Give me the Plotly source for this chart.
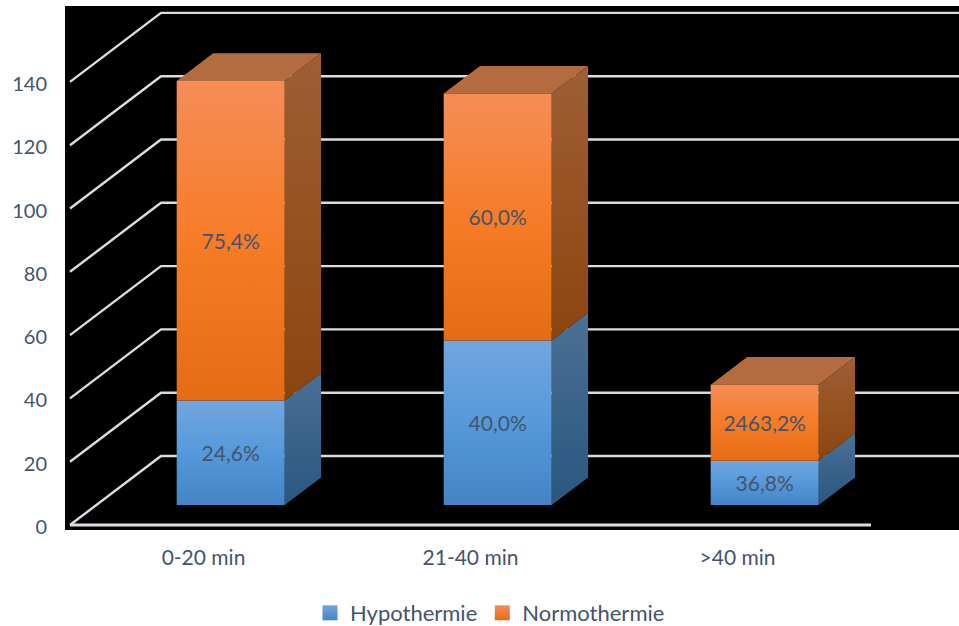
import plotly.graph_objects as go

# Chart data
categories = ["0-20 min", "21-40 min", ">40 min"]
hypothermie = [33, 52, 14]
normothermie = [101, 78, 24]
hypo_labels = ["24,6%", "40,0%", "36,8%"]
normo_labels = ["75,4%", "60,0%", "2463,2%"]
y_ticks = [0, 20, 40, 60, 80, 100, 120, 140]

# Oblique projection of the depth axis, in axis units
X_UNIT = 267
Y_UNIT = 3.165
DEPTH_X = 91 / X_UNIT
DEPTH_Y = 69 / Y_UNIT
BAR_WIDTH = 108 / X_UNIT
BAR_NEAR = 0.29
BAR_FAR = 0.69
BAR_SHIFT = 0.8 / X_UNIT
LABEL_DROP = 3 / Y_UNIT

TEXT = "#44546A"
GRID = "#D9DCE3"
FONT = "Lato"
FONT_SIZE = 21

BLUE_FRONT = [[0, "#4484C6"], [0.5, "#5599DB"], [1, "#72A6DF"]]
BLUE_SIDE = [[0, "#2A5680"], [1, "#4B7094"]]
ORANGE_FRONT = [[0, "#E56C17"], [0.5, "#F67C27"], [1, "#F58D57"]]
ORANGE_SIDE = [[0, "#8C450F"], [1, "#9E5F35"]]
ORANGE_TOP = "#B56B40"

fig = go.Figure()


def project(x, value, depth):
    return x + depth * DEPTH_X, value + depth * DEPTH_Y


def face(corners, scale=None, color=None):
    xs = [c[0] for c in corners] + [corners[0][0]]
    ys = [c[1] for c in corners] + [corners[0][1]]
    kwargs = {}
    if scale is not None:
        kwargs["fillgradient"] = dict(type="vertical", colorscale=scale,
                                      start=min(ys), stop=max(ys))
    else:
        kwargs["fillcolor"] = color
    fig.add_trace(go.Scatter(x=xs, y=ys, mode="lines", fill="toself",
                             line=dict(width=0), showlegend=False,
                             hoverinfo="skip", **kwargs))


# Gridlines run along the side wall and then across the back wall
x_left = -0.5
x_right = 2.5
for tick in y_ticks:
    fx, fy = project(x_left, tick, 0)
    bx, by = project(x_left, tick, 1)
    ex, ey = project(x_right, tick, 1)
    fig.add_trace(go.Scatter(x=[fx, bx, ex], y=[fy, by, ey], mode="lines",
                             line=dict(color=GRID, width=2.4),
                             showlegend=False, hoverinfo="skip"))
fig.add_trace(go.Scatter(x=[x_left, x_right], y=[0, 0], mode="lines",
                         line=dict(color=GRID, width=2.8),
                         showlegend=False, hoverinfo="skip"))


def block(center, low, high, front, side, top=None):
    x0 = center - BAR_WIDTH / 2
    x1 = center + BAR_WIDTH / 2
    if top is not None:
        face([project(x0, high, BAR_NEAR), project(x1, high, BAR_NEAR),
              project(x1, high, BAR_FAR), project(x0, high, BAR_FAR)], color=top)
    face([project(x1, low, BAR_NEAR), project(x1, low, BAR_FAR),
          project(x1, high, BAR_FAR), project(x1, high, BAR_NEAR)], scale=side)
    face([project(x0, low, BAR_NEAR), project(x1, low, BAR_NEAR),
          project(x1, high, BAR_NEAR), project(x0, high, BAR_NEAR)], scale=front)


# Stacked blocks, with their labels centred on the front faces
label_x, label_y, label_text = [], [], []
for i in range(len(categories)):
    h = hypothermie[i]
    n = normothermie[i]
    block(i + BAR_SHIFT, 0, h, BLUE_FRONT, BLUE_SIDE)
    block(i + BAR_SHIFT, h, h + n, ORANGE_FRONT, ORANGE_SIDE, top=ORANGE_TOP)
    for mid, txt in ((h / 2, hypo_labels[i]), (h + n / 2, normo_labels[i])):
        px, py = project(i + BAR_SHIFT, mid, BAR_NEAR)
        label_x.append(px)
        label_y.append(py - LABEL_DROP)
        label_text.append(txt)

fig.add_trace(go.Scatter(x=label_x, y=label_y, text=label_text, mode="text",
                         textposition="middle center",
                         textfont=dict(family=FONT, size=FONT_SIZE, color=TEXT),
                         showlegend=False, hoverinfo="skip"))

# Legend entries
for name, bottom, top in (("Hypothermie", "#4484C6", "#72A6DF"),
                          ("Normothermie", "#E56C17", "#F58D57")):
    fig.add_trace(go.Scatter(x=[None], y=[None], mode="markers", name=name,
                             marker=dict(symbol="square", size=15, color=top,
                                         gradient=dict(type="vertical", color=bottom))))

fig.update_layout(
    width=959,
    height=626,
    margin=dict(l=65, r=0, t=6, b=96),
    paper_bgcolor="white",
    plot_bgcolor="black",
    font=dict(family=FONT, size=FONT_SIZE, color=TEXT),
    legend=dict(orientation="h", x=(310 - 65) / 894, xanchor="left",
                yref="container", y=13 / 626, yanchor="middle",
                font=dict(size=22, color=TEXT),
                bgcolor="rgba(0,0,0,0)"),
    xaxis=dict(range=[(65 - 203.5) / X_UNIT, (959 - 203.5) / X_UNIT],
               tickvals=[0, 1, 2], ticktext=categories,
               showgrid=False, zeroline=False, showline=False,
               ticks="outside", ticklen=9, tickcolor="rgba(0,0,0,0)"),
    yaxis=dict(range=[-5 / Y_UNIT, 519 / Y_UNIT],
               tickvals=y_ticks, tickfont=dict(size=20),
               ticklabelshift=2,
               showgrid=False, zeroline=False, showline=False,
               ticks="outside", ticklen=13, tickcolor="rgba(0,0,0,0)"),
)

fig.write_html("out.html")
